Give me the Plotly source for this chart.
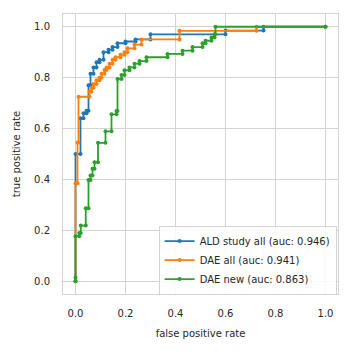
import plotly.graph_objects as go

# ALD study all (auc: 0.946)
ald_fpr = [0, 0, 0.02, 0.02, 0.032, 0.032, 0.044, 0.044, 0.052, 0.052, 0.06, 0.06, 0.072, 0.072,
           0.084, 0.084, 0.096, 0.096, 0.112, 0.112, 0.132, 0.132, 0.148, 0.148, 0.168, 0.168,
           0.2, 0.2, 0.24, 0.24, 0.30, 0.30, 0.60, 0.60, 0.752, 0.752, 1.0]
ald_tpr = [0, 0.50, 0.50, 0.64, 0.64, 0.66, 0.66, 0.67, 0.67, 0.77, 0.77, 0.815, 0.815, 0.84,
           0.84, 0.86, 0.86, 0.87, 0.87, 0.90, 0.90, 0.91, 0.91, 0.92, 0.92, 0.935,
           0.935, 0.942, 0.942, 0.95, 0.95, 0.97, 0.97, 0.985, 0.985, 1.0, 1.0]

# DAE all (auc: 0.941)
dae_all_fpr = [0, 0, 0.008, 0.008, 0.012, 0.012, 0.056, 0.056, 0.064, 0.064, 0.072, 0.072, 0.084, 0.084,
               0.096, 0.096, 0.104, 0.104, 0.116, 0.116, 0.124, 0.124, 0.136, 0.136, 0.148, 0.148,
               0.16, 0.16, 0.18, 0.18, 0.196, 0.196, 0.208, 0.208, 0.236, 0.236, 0.264, 0.264,
               0.416, 0.416, 0.724, 0.724, 1.0]
dae_all_tpr = [0, 0.385, 0.385, 0.545, 0.545, 0.725, 0.725, 0.745, 0.745, 0.76, 0.76, 0.775, 0.775, 0.79,
               0.79, 0.80, 0.80, 0.815, 0.815, 0.83, 0.83, 0.84, 0.84, 0.855, 0.855, 0.87,
               0.87, 0.88, 0.88, 0.89, 0.89, 0.90, 0.90, 0.915, 0.915, 0.93, 0.93, 0.95,
               0.95, 0.984, 0.984, 1.0, 1.0]

# DAE new (auc: 0.863)
dae_new_fpr = [0, 0, 0, 0.015, 0.015, 0.021, 0.021, 0.041, 0.041, 0.052, 0.052, 0.06, 0.06, 0.068,
               0.068, 0.076, 0.076, 0.09, 0.09, 0.12, 0.12, 0.144, 0.144, 0.164, 0.164, 0.168,
               0.168, 0.184, 0.184, 0.196, 0.196, 0.216, 0.216, 0.236, 0.236, 0.256, 0.256, 0.284,
               0.284, 0.368, 0.368, 0.428, 0.428, 0.468, 0.468, 0.508, 0.508, 0.52, 0.52, 0.544,
               0.544, 0.556, 0.556, 0.56, 0.56, 1.0]
dae_new_tpr = [0, 0.015, 0.177, 0.177, 0.19, 0.19, 0.219, 0.219, 0.287, 0.287, 0.398, 0.398, 0.416, 0.416,
               0.442, 0.442, 0.468, 0.468, 0.544, 0.544, 0.589, 0.589, 0.656, 0.656, 0.669, 0.669,
               0.795, 0.795, 0.81, 0.81, 0.829, 0.829, 0.84, 0.84, 0.855, 0.855, 0.865, 0.865,
               0.88, 0.88, 0.893, 0.893, 0.906, 0.906, 0.92, 0.92, 0.935, 0.935, 0.945, 0.945,
               0.958, 0.958, 0.97, 0.97, 1.0, 1.0]

series = [
    ("ALD study all (auc: 0.946)", ald_fpr, ald_tpr, "#1f77b4"),
    ("DAE all (auc: 0.941)", dae_all_fpr, dae_all_tpr, "#ff7f0e"),
    ("DAE new (auc: 0.863)", dae_new_fpr, dae_new_tpr, "#2ca02c"),
]

fig = go.Figure()
for name, x, y, c in series:
    fig.add_trace(go.Scatter(x=x, y=y, name=name, mode="lines+markers",
                             line=dict(color=c, width=1.8),
                             marker=dict(color=c, size=4)))

font = dict(family="DejaVu Sans", size=10, color="#262626")
axis_common = dict(showgrid=True, gridcolor="#d3d3d3", gridwidth=1, zeroline=False,
                   showline=True, linecolor="#d3d3d3", linewidth=1, mirror=True,
                   ticks="", tickfont=font, tickformat=".1f", dtick=0.2)
fig.update_layout(
    width=352, height=352,
    margin=dict(l=63, r=14, t=14, b=58),
    plot_bgcolor="white", paper_bgcolor="white",
    font=font,
    xaxis=dict(range=[-0.05, 1.05], ticklabelstandoff=10,
               title=dict(text="false positive rate", font=font, standoff=11), **axis_common),
    yaxis=dict(range=[-0.05, 1.05], ticklabelstandoff=10,
               title=dict(text="true positive rate", font=font, standoff=11), **axis_common),
    legend=dict(x=0.995, y=-0.002, xanchor="right", yanchor="bottom",
                bgcolor="rgba(255,255,255,0.85)", bordercolor="#d3d3d3", borderwidth=1,
                font=dict(family="DejaVu Sans", size=10, color="#262626"),
                tracegroupgap=0, itemwidth=30),
    showlegend=True,
)
fig.write_html("out.html")
